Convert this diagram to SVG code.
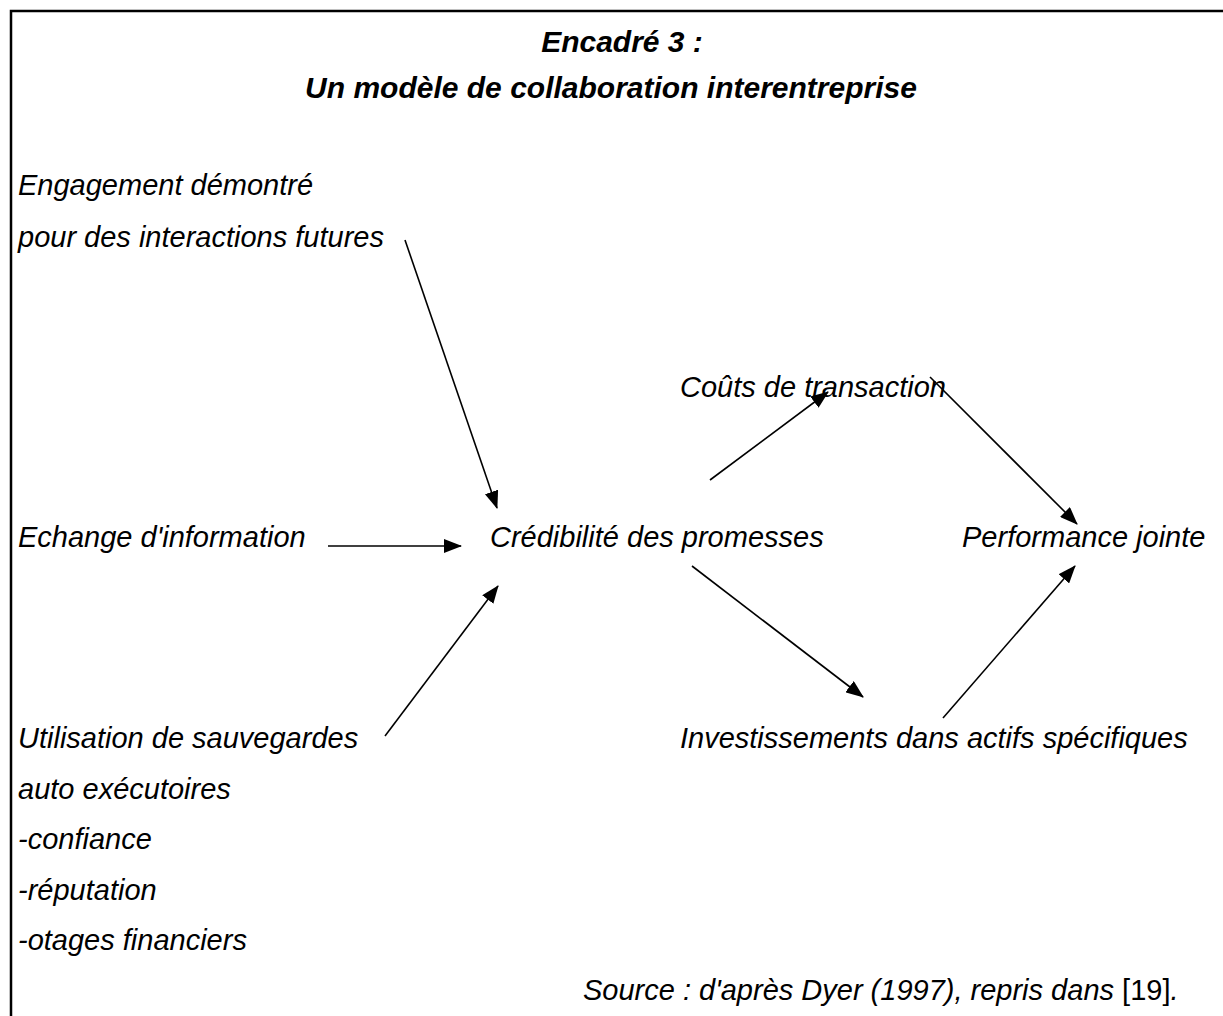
<svg xmlns="http://www.w3.org/2000/svg" width="1223" height="1016" viewBox="0 0 1223 1016">
<defs>
<marker id="ah" viewBox="0 0 18 14" refX="17" refY="7" markerWidth="18" markerHeight="14" markerUnits="userSpaceOnUse" orient="auto">
<path d="M0,0 L18,7 L0,14 Z" fill="#000"/>
</marker>
<style>
.t{font-family:"Liberation Sans",Arial,sans-serif;font-style:italic;font-size:29px;fill:#000}
.h{font-family:"Liberation Sans",Arial,sans-serif;font-style:italic;font-weight:bold;font-size:30px;fill:#000}
.c{stroke:#000;stroke-width:1.6;fill:none;marker-end:url(#ah)}
</style>
</defs>
<rect x="0" y="0" width="1223" height="1016" fill="#fff"/>
<path d="M11,1016 V11 H1223" stroke="#000" stroke-width="2.5" fill="none"/>
<g id="title">
<text class="h" x="622" y="52" text-anchor="middle">Encadré 3 :</text>
<text class="h" x="611" y="98" text-anchor="middle">Un modèle de collaboration interentreprise</text>
</g>
<g id="engagement">
<text class="t" x="18" y="195">Engagement démontré</text>
<text class="t" x="18" y="247">pour des interactions futures</text>
</g>
<g id="echange"><text class="t" x="18" y="547">Echange d'information</text></g>
<g id="utilisation">
<text class="t" x="18" y="748">Utilisation de sauvegardes</text>
<text class="t" x="18" y="799">auto exécutoires</text>
<text class="t" x="18" y="849">-confiance</text>
<text class="t" x="18" y="900">-réputation</text>
<text class="t" x="18" y="950">-otages financiers</text>
</g>
<g id="credibilite"><text class="t" x="490" y="547">Crédibilité des promesses</text></g>
<g id="couts"><text class="t" x="680" y="397">Coûts de transaction</text></g>
<g id="investissements"><text class="t" x="680" y="748">Investissements dans actifs spécifiques</text></g>
<g id="performance"><text class="t" x="962" y="547">Performance jointe</text></g>
<g id="source"><text class="t" x="583" y="1000">Source : d'après Dyer (1997), repris dans <tspan font-style="normal">[19]</tspan>.</text></g>
<g id="connectors">
<line class="c" x1="405" y1="240" x2="497" y2="508"/>
<line class="c" x1="328" y1="546" x2="461" y2="546"/>
<line class="c" x1="385" y1="736" x2="498" y2="586"/>
<line class="c" x1="710" y1="480" x2="828" y2="392"/>
<line class="c" x1="930" y1="377" x2="1077" y2="524"/>
<line class="c" x1="692" y1="566" x2="863" y2="697"/>
<line class="c" x1="943" y1="718" x2="1075" y2="566"/>
</g>
</svg>
